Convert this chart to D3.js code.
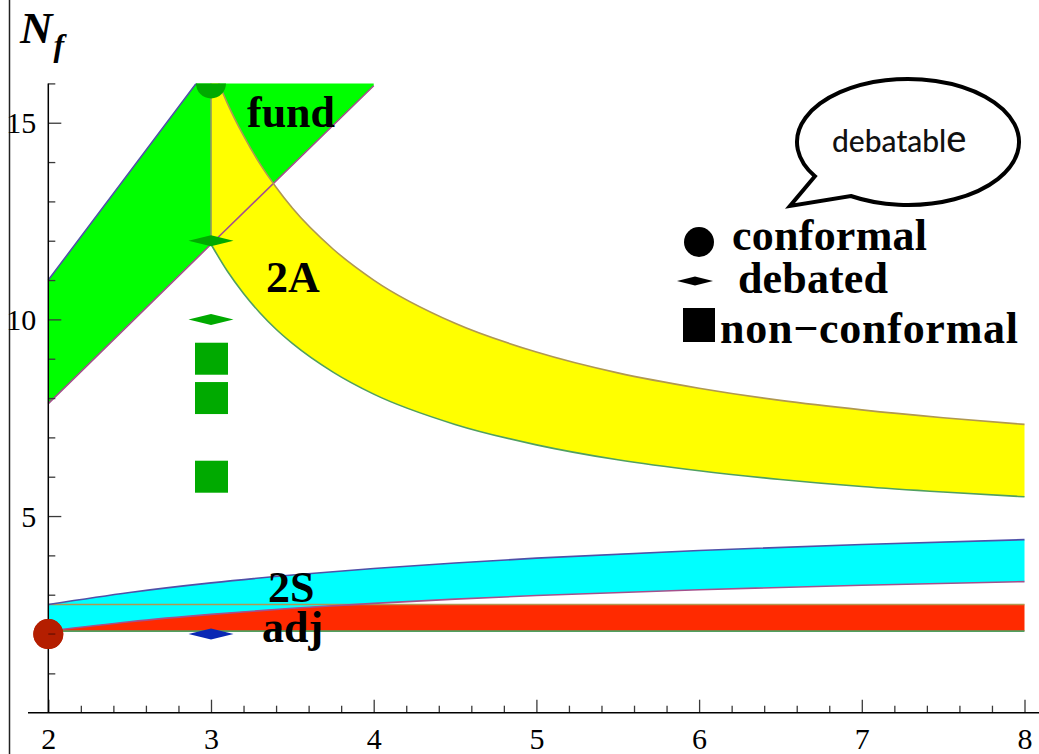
<!DOCTYPE html>
<html>
<head>
<meta charset="utf-8">
<script src="https://cdn.jsdelivr.net/npm/d3@7"></script>
<style>
  html, body { margin: 0; padding: 0; background: #fff; }
  svg { display: block; }
</style>
</head>
<body>
<svg id="chart" width="1039" height="754"></svg>
<script>
// Conformal window of SU(N) gauge theories: Nf versus N for four representations.

// fundamental representation
const fundN = [2, 3, 4];
const fundUpper = [11, 16.5, 22];
const fundLower = [7.86, 11.91, 15.94];

// two-index antisymmetric
const asymN = [3, 3.1, 3.2, 3.3, 3.4, 3.5, 3.75, 4, 4.5, 5, 5.5, 6, 6.5, 7, 7.5, 8];
const asymUpper = [16.5, 15.5, 14.67, 13.96, 13.36, 12.83, 11.79, 11, 9.9, 9.17, 8.64, 8.25, 7.94, 7.7, 7.5, 7.33];
const asymLower = [11.91, 11.23, 10.66, 10.17, 9.75, 9.39, 8.66, 8.10, 7.33, 6.81, 6.43, 6.15, 5.93, 5.75, 5.61, 5.49];

// two-index symmetric
const symN = [2, 2.5, 3, 3.5, 4, 4.5, 5, 6, 7, 8];
const symUpper = [2.75, 3.056, 3.3, 3.5, 3.667, 3.808, 3.929, 4.125, 4.278, 4.4];
const symLower = [2.075, 2.313, 2.5, 2.654, 2.78, 2.887, 2.979, 3.127, 3.242, 3.333];

// adjoint
const adjN = [2, 8];
const adjUpper = [2.75, 2.75];
const adjLower = [2.075, 2.075];

// lattice results: [N, Nf, representation]
const conformalPts = [[3, 16, "fund"], [2, 2, "adj"]];
const debatedPts = [[3, 12, "fund"], [3, 10, "fund"], [3, 2, "2S"]];
const nonConformalPts = [[3, 9, "fund"], [3, 8, "fund"], [3, 6, "fund"]];

// axis ticks
const xMajor = [2, 3, 4, 5, 6, 7, 8];
const xMinor = d3.range(2, 8.001, 0.2).filter(v => Math.abs(v - Math.round(v)) > 1e-6);
const yMajor = [5, 10, 15];
const yMinor = [1, 2, 3, 4, 6, 7, 8, 9, 11, 12, 13, 14, 16];

const bandLabels = [["fund", 247, 127], ["2A", 266, 292], ["2S", 268, 602], ["adj", 262, 642]];
const legendLabels = ["conformal", "debated", "non\u2212conformal"];

const markerColor = { fund: "#00aa00", adj: "#b41e00", "2S": "#0a28b4" };

const SERIF = "'Liberation Serif', 'Times New Roman', Times, serif";

const svg = d3.select("#chart");
const x = d3.scaleLinear().domain([2, 8]).range([48.3, 1024.5]);
const y = d3.scaleLinear().domain([0, 16]).range([712.7, 83.4]);

// clip everything above Nf = 16
svg.append("defs").append("clipPath").attr("id", "plotClip")
  .append("rect").attr("x", 0).attr("y", y(16)).attr("width", 1039).attr("height", 754 - y(16));

// outer frame edge
svg.append("line").attr("x1", 9.5).attr("x2", 9.5).attr("y1", 0).attr("y2", 754)
  .attr("stroke", "#222").attr("stroke-width", 1.5);

const plot = svg.append("g").attr("clip-path", "url(#plotClip)");

function band(ns, up, lo) {
  return ns.map((n, i) => ({ n, up: up[i], lo: lo[i] }));
}
const fund = band(fundN, fundUpper, fundLower);
const asym = band(asymN, asymUpper, asymLower);
const sym = band(symN, symUpper, symLower);
const adj = band(adjN, adjUpper, adjLower);

const areaGen = (curve) => d3.area().x(d => x(d.n)).y0(d => y(d.lo)).y1(d => y(d.up)).curve(curve);
const lineGen = (acc, curve) => d3.line().x(d => x(d.n)).y(d => y(acc(d))).curve(curve);

const smooth = d3.curveMonotoneX;
const straight = d3.curveLinear;

// fills
plot.append("path").datum(fund).attr("d", areaGen(straight)).attr("fill", "#00ff00");
plot.append("path").datum(asym).attr("d", areaGen(smooth)).attr("fill", "#ffff00");
plot.append("path").datum(adj).attr("d", areaGen(straight)).attr("fill", "#ff2a00");
plot.append("path").datum(sym).attr("d", areaGen(smooth)).attr("fill", "#00ffff");

// boundary curves
const cUp1 = "#5050a8", cLo1 = "#a4508c", cUp2 = "#b09850", cLo2 = "#50a060";
const lw = 1.6;
function drawLine(data, acc, curve, color) {
  plot.append("path").datum(data).attr("d", lineGen(acc, curve))
    .attr("fill", "none").attr("stroke", color).attr("stroke-width", lw);
}
drawLine(fund, d => d.up, straight, cUp1);
drawLine(fund, d => d.lo, straight, cLo1);
// left edge of the antisymmetric window
plot.append("line").attr("x1", x(asymN[0])).attr("x2", x(asymN[0]))
  .attr("y1", y(asymLower[0])).attr("y2", y(asymUpper[0]))
  .attr("stroke", "#8e9668").attr("stroke-width", lw);
drawLine(asym, d => d.up, smooth, cUp2);
drawLine(asym, d => d.lo, smooth, cLo2);
drawLine(adj, d => d.up, straight, cUp2);
drawLine(adj, d => d.lo, straight, cLo2);
drawLine(sym, d => d.up, smooth, cUp1);
drawLine(sym, d => d.lo, smooth, cLo1);

// markers
function diamondPath(cx, cy, hw, hh) {
  return `M${cx - hw},${cy}L${cx},${cy - hh}L${cx + hw},${cy}L${cx},${cy + hh}Z`;
}
plot.selectAll("circle.conf").data(conformalPts).join("circle")
  .attr("class", "conf")
  .attr("cx", d => x(d[0])).attr("cy", d => y(d[1])).attr("r", 15)
  .attr("fill", d => markerColor[d[2]]);
plot.selectAll("path.deb").data(debatedPts).join("path")
  .attr("class", "deb")
  .attr("d", d => diamondPath(x(d[0]), y(d[1]), 22.5, 5.5))
  .attr("fill", d => markerColor[d[2]]);
plot.selectAll("rect.nonconf").data(nonConformalPts).join("rect")
  .attr("class", "nonconf")
  .attr("x", d => x(d[0]) - 16).attr("y", d => y(d[1]) - 16)
  .attr("width", 33).attr("height", 32)
  .attr("fill", d => markerColor[d[2]]);

// axes
const tickColor = "#3a3a3a";
const xAxisG = svg.append("g").attr("transform", `translate(0,${y(0)})`);
xAxisG.call(d3.axisBottom(x).tickValues(xMinor).tickSize(-7).tickFormat(""));
xAxisG.call(g => g.select(".domain").remove());
const xMajG = svg.append("g").attr("transform", `translate(0,${y(0)})`)
  .call(d3.axisBottom(x).tickValues(xMajor).tickSize(-13).tickFormat(d3.format("d")));
xMajG.select(".domain").remove();
xMajG.attr("font-family", SERIF).attr("font-size", 30);
xMajG.selectAll("text").attr("y", 36).attr("dy", 0)
  .style("font-family", SERIF).style("font-size", "30px").attr("fill", "#000");

const yMinG = svg.append("g").attr("transform", `translate(${x(2)},0)`)
  .call(d3.axisLeft(y).tickValues(yMinor).tickSize(-7).tickFormat(""));
yMinG.select(".domain").remove();
const yMajG = svg.append("g").attr("transform", `translate(${x(2)},0)`)
  .call(d3.axisLeft(y).tickValues(yMajor).tickSize(-13).tickPadding(12).tickFormat(d3.format("d")));
yMajG.select(".domain").remove();
yMajG.attr("font-family", SERIF).attr("font-size", 30);
yMajG.selectAll("text").style("font-family", SERIF)
  .style("font-size", "30px").attr("fill", "#000").attr("dy", "0.34em");
svg.selectAll(".tick line").attr("stroke", tickColor).attr("stroke-width", 1.3);

// axis lines
svg.append("line").attr("x1", 28).attr("x2", 1039).attr("y1", y(0)).attr("y2", y(0))
  .attr("stroke", "#000").attr("stroke-width", 1.5);
svg.append("line").attr("x1", x(2)).attr("x2", x(2)).attr("y1", y(16)).attr("y2", y(0))
  .attr("stroke", "#000").attr("stroke-width", 1.5);

// the red conformal point sits over the vertical axis
svg.append("circle").attr("cx", x(conformalPts[1][0])).attr("cy", y(conformalPts[1][1])).attr("r", 15)
  .attr("fill", markerColor[conformalPts[1][2]]);
svg.append("line").attr("x1", x(2)).attr("x2", x(2) + 7).attr("y1", y(2)).attr("y2", y(2))
  .attr("stroke", "#6a1000").attr("stroke-width", 1.3);

// axis title
const title = svg.append("text").attr("x", 20).attr("y", 43)
  .style("font-family", SERIF)
  .style("font-weight", "bold").style("font-style", "italic").style("font-size", "45px").attr("fill", "#000");
title.append("tspan").text("N");
title.append("tspan").style("font-size", "32px").attr("dy", 13).attr("dx", 1).text("f");

// band labels
svg.selectAll("text.band").data(bandLabels).join("text")
  .attr("class", "band")
  .attr("x", d => d[1]).attr("y", d => d[2])
  .style("font-family", SERIF)
  .style("font-weight", "bold").style("font-size", "44px").attr("fill", "#000")
  .text(d => d[0]);

// legend
const lg = svg.append("g");
lg.append("circle").attr("cx", 699).attr("cy", 242).attr("r", 15).attr("fill", "#000");
lg.append("path").attr("d", diamondPath(695, 281, 18, 4.5)).attr("fill", "#000");
lg.append("rect").attr("x", 683).attr("y", 308).attr("width", 32).attr("height", 34).attr("fill", "#000");
const legendPos = [[732, 250, 195], [738, 293, 150], [720, 343, 298]];
lg.selectAll("text").data(legendLabels).join("text")
  .attr("x", (d, i) => legendPos[i][0]).attr("y", (d, i) => legendPos[i][1])
  .attr("textLength", (d, i) => legendPos[i][2]).attr("lengthAdjust", "spacing")
  .style("font-family", SERIF)
  .style("font-weight", "bold").style("font-size", "44px").attr("fill", "#000")
  .text(d => d);

// speech bubble
const bx = 908, by = 142, brx = 111, bry = 63;
const pt = a => [bx + brx * Math.cos(a), by + bry * Math.sin(a)];
const a1 = 147 * Math.PI / 180, a2 = 121 * Math.PI / 180;
const p1 = pt(a1), p2 = pt(a2);
svg.append("path")
  .attr("d", `M${p2[0]},${p2[1]} A${brx},${bry} 0 1 0 ${p1[0]},${p1[1]} L790,206 Z`)
  .attr("fill", "#fff").attr("stroke", "#000").attr("stroke-width", 4).attr("stroke-linejoin", "miter");
const bt = svg.append("text").attr("x", 832).attr("y", 152)
  .style("font-family", "Lato, 'Open Sans', sans-serif").style("font-size", "30px")
  .style("font-weight", 500).attr("fill", "#111");
bt.append("tspan").text("debatabl");
bt.append("tspan").style("font-size", "38px").text("e");
</script>
</body>
</html>
